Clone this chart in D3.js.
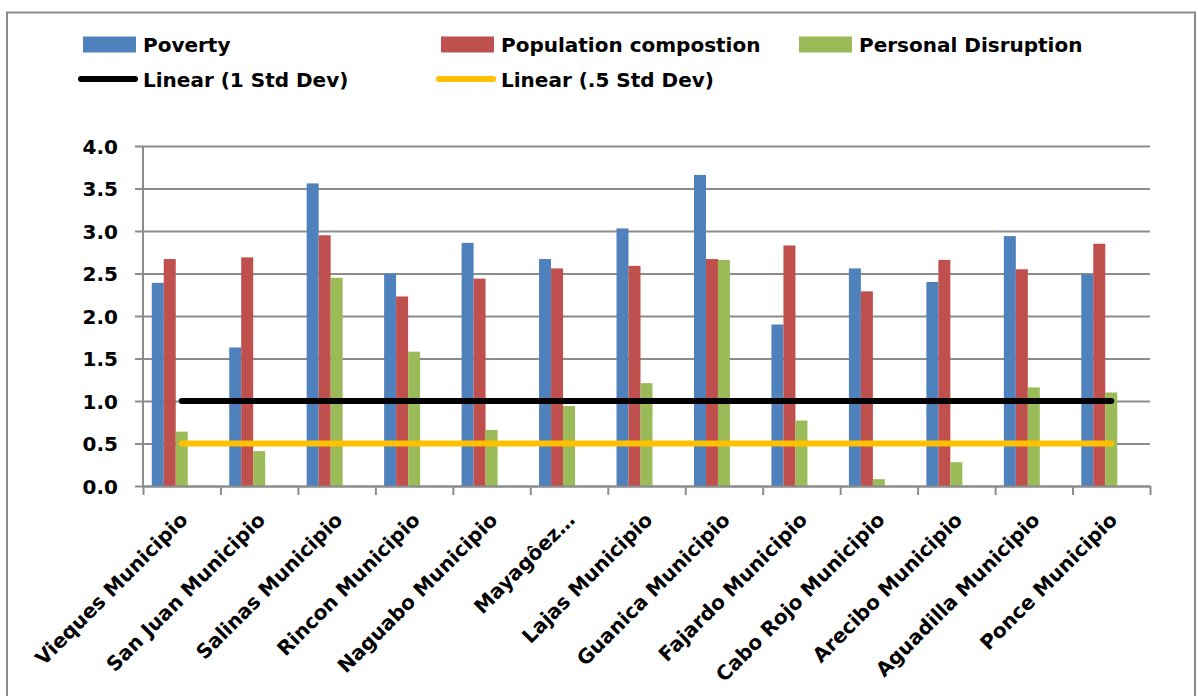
<!DOCTYPE html>
<html>
<head>
<meta charset="utf-8">
<script src="https://cdn.jsdelivr.net/npm/d3@7/dist/d3.min.js"></script>
<style>
  html, body { margin: 0; padding: 0; background: #fff; }
  svg { display: block; }
  text { font-family: "DejaVu Sans", sans-serif; font-weight: bold; fill: #000; }
</style>
</head>
<body>
<svg id="chart" width="1198" height="696"></svg>
<script>
// Municipalities shown along the x axis
const categories = [
  "Vieques Municipio", "San Juan Municipio", "Salinas Municipio", "Rincon Municipio",
  "Naguabo Municipio", "Mayagôez…", "Lajas Municipio", "Guanica Municipio",
  "Fajardo Municipio", "Cabo Rojo Municipio", "Arecibo Municipio",
  "Aguadilla Municipio", "Ponce Municipio"
];

// Index scores per municipality
const poverty    = [2.39, 1.63, 3.56, 2.50, 2.86, 2.67, 3.03, 3.66, 1.90, 2.56, 2.40, 2.94, 2.49];
const population = [2.67, 2.69, 2.95, 2.23, 2.44, 2.56, 2.59, 2.67, 2.83, 2.29, 2.66, 2.55, 2.85];
const personal   = [0.64, 0.41, 2.45, 1.58, 0.66, 0.94, 1.21, 2.66, 0.77, 0.08, 0.28, 1.16, 1.10];

// Threshold series (bars hidden, shown through their linear trendlines)
const stdDev1    = [1, 1, 1, 1, 1, 1, 1, 1, 1, 1, 1, 1, 1];
const stdDevHalf = [0.5, 0.5, 0.5, 0.5, 0.5, 0.5, 0.5, 0.5, 0.5, 0.5, 0.5, 0.5, 0.5];

const seriesNames = ["Poverty", "Population compostion", "Personal Disruption", "1 Std Dev", ".5 Std Dev"];
const legendNames = ["Poverty", "Population compostion", "Personal Disruption", "Linear (1 Std Dev)", "Linear (.5 Std Dev)"];
const yTicks = [0.0, 0.5, 1.0, 1.5, 2.0, 2.5, 3.0, 3.5, 4.0];

const colors = {
  "Poverty": "#4F81BD",
  "Population compostion": "#C0504D",
  "Personal Disruption": "#9BBB59",
  "1 Std Dev": "#000000",
  ".5 Std Dev": "#FFC000"
};

const barSeries = [
  { name: "Poverty", values: poverty },
  { name: "Population compostion", values: population },
  { name: "Personal Disruption", values: personal }
];
const trendSeries = [
  { name: "1 Std Dev", values: stdDev1 },
  { name: ".5 Std Dev", values: stdDevHalf }
];

const svg = d3.select("#chart");
const plot = { left: 143, right: 1150, top: 146, bottom: 486 };
const gridColor = "#8c8c8c";

// Outer chart frame
svg.append("rect")
  .attr("x", 7).attr("y", 12.5)
  .attr("width", 1188).attr("height", 720)
  .attr("fill", "none").attr("stroke", "#8a8a8a").attr("stroke-width", 2);

const x0 = d3.scaleBand().domain(categories).range([plot.left, plot.right]).paddingInner(0).paddingOuter(0);
const x1 = d3.scaleBand().domain(seriesNames).range([0, x0.bandwidth()]).paddingInner(0).paddingOuter(0.73);
const y = d3.scaleLinear().domain([0, 4]).range([plot.bottom, plot.top]);
const xIdx = d3.scaleLinear().domain([0, categories.length]).range([plot.left, plot.right]);

// Horizontal gridlines with the y axis tick labels
const yAxis = d3.axisLeft(y)
  .tickValues(yTicks)
  .tickFormat(d3.format(".1f"))
  .tickSize(-(plot.right - plot.left) - 8);
const gy = svg.append("g").attr("transform", `translate(${plot.right},0)`).call(yAxis);
gy.select(".domain").remove();
gy.selectAll(".tick line").attr("x1", 0).attr("x2", -(plot.right - plot.left) - 8)
  .attr("stroke", gridColor).attr("stroke-width", 2);
gy.selectAll(".tick text")
  .attr("x", -(plot.right - plot.left) - 25)
  .attr("dy", "0.36em")
  .style("font-size", "20px");

// Vertical axis line
svg.append("line")
  .attr("x1", plot.left).attr("x2", plot.left)
  .attr("y1", y(4)).attr("y2", y(0))
  .attr("stroke", gridColor).attr("stroke-width", 2);

// Bars
const groups = svg.append("g").selectAll("g")
  .data(categories)
  .join("g")
  .attr("transform", d => `translate(${x0(d)},0)`);

groups.selectAll("rect")
  .data((d, i) => barSeries.map(s => ({ key: s.name, value: s.values[i] })))
  .join("rect")
  .attr("x", d => x1(d.key))
  .attr("width", x1.bandwidth())
  .attr("y", d => y(d.value))
  .attr("height", d => y(0) - y(d.value))
  .attr("fill", d => colors[d.key]);

// Category axis: tick marks on the band boundaries
const xAxis = d3.axisBottom(xIdx)
  .tickValues(d3.range(categories.length + 1))
  .tickFormat("")
  .tickSize(9)
  .tickSizeOuter(0);
const gx = svg.append("g").attr("transform", `translate(0,${plot.bottom})`).call(xAxis);
gx.select(".domain").attr("stroke", gridColor).attr("stroke-width", 2);
gx.selectAll(".tick line").attr("stroke", gridColor).attr("stroke-width", 2);

// Rotated category labels
svg.append("g").selectAll("text")
  .data(categories)
  .join("text")
  .attr("transform", d => `translate(${x0(d) + x0.bandwidth() / 2 - 6},${plot.bottom + 22}) rotate(-45)`)
  .attr("text-anchor", "end")
  .attr("dy", "0.93em")
  .style("font-size", "20px")
  .text(d => d);

// Linear trendlines for the threshold series
const trend = d3.line()
  .x((d, i) => x0(categories[i]) + x0.bandwidth() / 2)
  .y(d => y(d));
svg.append("g").selectAll("path")
  .data(trendSeries)
  .join("path")
  .attr("d", d => trend(d.values))
  .attr("fill", "none")
  .attr("stroke", d => colors[d.name])
  .attr("stroke-width", 6)
  .attr("stroke-linecap", "round");

// Legend
const legendCols = [83, 441, 799];
const legendRows = [44.5, 79];
const legendItems = legendNames.map((label, i) => ({
  label, key: seriesNames[i], isLine: i >= 3,
  x: legendCols[i % 3], y: legendRows[Math.floor(i / 3)]
}));
const lg = svg.append("g").selectAll("g")
  .data(legendItems)
  .join("g")
  .attr("transform", d => `translate(${d.x},${d.y})`);
lg.filter(d => !d.isLine).append("rect")
  .attr("x", 0).attr("y", -8).attr("width", 53).attr("height", 16)
  .attr("fill", d => colors[d.key]);
lg.filter(d => d.isLine).append("line")
  .attr("x1", -2).attr("x2", 52).attr("y1", 0).attr("y2", 0)
  .attr("stroke", d => colors[d.key]).attr("stroke-width", 6)
  .attr("stroke-linecap", "round");
lg.append("text")
  .attr("x", 60).attr("y", 7.5)
  .style("font-size", "20px")
  .text(d => d.label);
</script>
</body>
</html>
